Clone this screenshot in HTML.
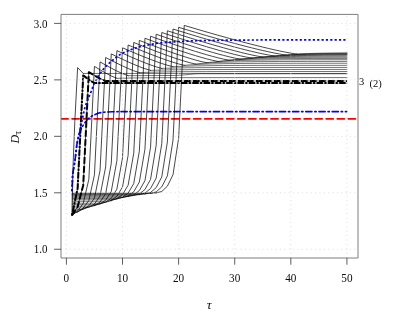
<!DOCTYPE html>
<html lang="en"><head><meta charset="utf-8"><title>plot</title>
<style>html,body{margin:0;padding:0;background:#fff}svg{display:block;will-change:transform}.t text,.t tspan{font-family:"Liberation Serif",serif}</style></head>
<body>
<svg width="399" height="319" viewBox="0 0 399 319">
<rect width="399" height="319" fill="#fff"/>
<defs><clipPath id="c"><rect x="61.0" y="14.4" width="297.0" height="243.6"/></clipPath></defs>
<g clip-path="url(#c)" fill="none">
<path d="M61.0,118.8 L358.0,118.8" stroke="#ff0000" stroke-width="1.8" stroke-dasharray="7.1 3.95" stroke-linecap="round"/>
<path d="M72.01,190.99 L72.52,176.98 L72.85,173.58 L73.97,166.54 L74.54,163.33 L75.10,159.55 L75.66,154.65 L76.22,149.52 L76.78,145.23 L77.34,141.97 L77.90,139.10 L78.46,136.61 L79.02,134.53 L79.58,132.76 L80.15,131.23 L80.71,129.87 L81.27,128.66 L81.83,127.56 L82.39,126.53 L82.95,125.58 L83.51,124.70 L84.07,123.87 L84.63,123.08 L85.20,122.34 L86.32,120.93 L86.88,120.27 L87.44,119.64 L88.00,119.05 L88.56,118.50 L89.12,118.00 L89.68,117.55 L90.25,117.14 L90.81,116.76 L91.37,116.40 L92.49,115.74 L93.61,115.17 L95.86,114.15 L96.98,113.69 L97.54,113.48 L98.66,113.11 L99.22,112.96 L99.78,112.84 L100.91,112.64 L102.03,112.47 L103.15,112.32 L104.27,112.19 L105.95,112.03 L107.64,111.94 L112.13,111.78 L115.49,111.69 L118.30,111.66 L346.65,111.65" stroke="#0000ff" stroke-width="1.6" stroke-dasharray="1.4 2.8 6.2 2.8" stroke-linecap="round" stroke-linejoin="round"/>
<g stroke="#000" stroke-width="0.55" stroke-linejoin="round" stroke-linecap="round">
<path d="M83.23,73.45 L346.93,73.45"/>
<path d="M94.45,83.10 L346.93,83.10"/>
<path d="M105.67,81.00 L346.93,81.00"/>
<path d="M116.90,78.30 L128.12,78.05 L139.34,77.89 L156.17,77.75 L173.00,77.68 L223.50,77.61 L346.93,77.60"/>
<path d="M128.12,75.70 L173.00,75.50 L178.61,75.31 L184.22,74.87 L189.83,74.33 L195.44,73.89 L201.05,73.70 L206.66,73.75 L346.93,73.75"/>
<path d="M72.01,211.80 L77.62,211.80 M139.34,72.60 L144.95,72.38 L150.56,72.21 L161.78,71.95 L173.00,71.79 L189.83,71.65 L206.66,71.58 L234.72,71.53 L346.93,71.50"/>
<path d="M72.01,209.90 L77.62,209.90 M150.56,70.40 L161.78,70.06 L173.00,69.84 L184.22,69.70 L201.05,69.58 L217.89,69.52 L245.94,69.47 L346.93,69.45"/>
<path d="M72.01,208.00 L83.23,208.00 M161.78,68.40 L173.00,68.06 L184.22,67.84 L195.44,67.70 L212.28,67.58 L229.11,67.52 L257.16,67.47 L346.93,67.45"/>
<path d="M72.01,206.20 L88.84,206.20 L94.45,205.63 M173.00,66.70 L178.61,66.43 L184.22,66.22 L195.44,65.91 L206.66,65.71 L223.50,65.53 L240.33,65.44 L262.77,65.39 L346.93,65.35"/>
<path d="M72.01,204.70 L94.45,204.70 M184.22,65.30 L189.83,64.89 L195.44,64.56 L201.05,64.30 L206.66,64.09 L212.28,63.92 L217.89,63.79 L229.11,63.60 L245.94,63.43 L268.38,63.32 L296.43,63.27 L346.93,63.25"/>
<path d="M72.01,203.20 L100.06,203.20 M195.44,64.00 L201.05,63.48 L206.66,63.07 L212.28,62.73 L217.89,62.47 L223.50,62.26 L229.11,62.09 L240.33,61.84 L257.16,61.63 L279.60,61.49 L307.66,61.43 L346.93,61.41"/>
<path d="M72.01,201.30 L105.67,201.30 L111.28,200.70 M206.66,62.70 L212.28,62.10 L217.89,61.62 L223.50,61.24 L229.11,60.93 L234.72,60.69 L240.33,60.49 L251.55,60.21 L268.38,59.96 L285.21,59.83 L307.66,59.75 L346.93,59.71"/>
<path d="M72.01,199.78 L111.28,199.78 M217.89,61.40 L223.50,60.80 L229.11,60.32 L234.72,59.94 L240.33,59.63 L245.94,59.39 L257.16,59.03 L262.77,58.91 L273.99,58.73 L290.82,58.57 L313.27,58.47 L346.93,58.42"/>
<path d="M72.01,198.44 L116.90,198.44 M229.11,60.20 L234.72,59.60 L240.33,59.12 L245.94,58.74 L251.55,58.43 L257.16,58.19 L268.38,57.83 L279.60,57.61 L296.43,57.41 L318.88,57.29 L346.93,57.23"/>
<path d="M72.01,197.28 L122.51,197.28 M240.33,59.10 L245.94,58.50 L251.55,58.02 L257.16,57.64 L262.77,57.33 L268.38,57.09 L279.60,56.73 L290.82,56.51 L307.66,56.31 L324.49,56.21 L346.93,56.14"/>
<path d="M72.01,196.23 L128.12,196.23 M251.55,58.00 L257.16,57.43 L262.77,56.98 L268.38,56.61 L273.99,56.32 L279.60,56.09 L285.21,55.90 L296.43,55.63 L307.66,55.46 L324.49,55.31 L346.93,55.22"/>
<path d="M72.01,195.30 L133.73,195.30 L139.34,194.63 M262.77,57.00 L268.38,56.48 L273.99,56.07 L279.60,55.73 L285.21,55.47 L290.82,55.26 L296.43,55.09 L307.66,54.84 L318.88,54.68 L330.10,54.58 L346.93,54.49"/>
<path d="M72.01,194.48 L139.34,194.48 L144.95,193.97 M273.99,55.90 L279.60,55.48 L285.21,55.15 L290.82,54.88 L296.43,54.66 L302.05,54.49 L307.66,54.35 L318.88,54.15 L330.10,54.03 L346.93,53.92"/>
<path d="M72.01,193.78 L144.95,193.78 L150.56,193.40 M285.21,54.90 L290.82,54.56 L296.43,54.29 L302.05,54.07 L307.66,53.90 L313.27,53.76 L324.49,53.56 L335.71,53.43 L346.93,53.35"/>
<path d="M72.01,193.20 L150.56,193.20 L156.17,192.93 M296.43,54.00 L302.05,53.74 L307.66,53.53 L318.88,53.23 L330.10,53.04 L346.93,52.88"/>
</g>
<g stroke="#000" stroke-width="0.72" stroke-linejoin="round" stroke-linecap="round">
<path d="M72.01,215.30 L73.02,166.26 L74.82,121.65 L77.62,67.60 L83.23,73.45"/>
<path d="M72.01,215.30 L77.62,188.33 L83.23,75.40 L88.84,79.70 L94.45,83.10"/>
<path d="M72.01,215.30 L77.62,206.95 L83.23,185.13 L88.84,72.20 L94.45,75.55 L100.06,78.59 L105.67,81.00"/>
<path d="M72.01,215.30 L77.62,211.16 L83.23,203.33 L88.84,179.33 L94.45,66.40 L100.06,69.83 L105.67,73.05 L111.28,75.98 L116.90,78.30"/>
<path d="M72.01,213.50 L77.62,211.93 L83.23,208.08 L88.84,200.55 L94.45,174.83 L100.06,61.90 L105.67,65.09 L111.28,68.15 L116.90,71.02 L122.51,73.63 L128.12,75.70"/>
<path d="M77.62,211.80 L83.23,209.05 L88.84,205.86 L94.45,198.17 L100.06,170.43 L105.67,57.50 L111.28,60.42 L116.90,63.24 L122.51,65.94 L128.12,68.47 L133.73,70.78 L139.34,72.60"/>
<path d="M77.62,209.90 L83.23,209.11 L88.84,207.06 L94.45,204.06 L100.06,195.84 L105.67,166.83 L111.28,53.90 L116.90,56.64 L122.51,59.31 L128.12,61.87 L133.73,64.33 L139.34,66.64 L144.95,68.74 L150.56,70.40"/>
<path d="M83.23,208.00 L88.84,207.17 L94.45,205.46 L100.06,202.14 L105.67,193.54 L111.28,163.53 L116.90,50.60 L122.51,53.19 L128.12,55.72 L133.73,58.18 L139.34,60.54 L144.95,62.81 L150.56,64.93 L156.17,66.87 L161.78,68.40"/>
<path d="M94.45,205.63 L100.06,203.76 L105.67,200.23 L111.28,191.33 L116.90,160.68 L122.51,47.75 L128.12,50.21 L133.73,52.61 L139.34,54.96 L144.95,57.23 L150.56,59.42 L156.17,61.52 L161.78,63.49 L167.39,65.28 L173.00,66.70"/>
<path d="M94.45,204.70 L100.06,203.99 L105.67,202.06 L111.28,198.30 L116.90,189.08 L122.51,157.93 L128.12,45.00 L133.73,47.37 L139.34,49.70 L144.95,51.97 L150.56,54.19 L156.17,56.34 L161.78,58.41 L167.39,60.40 L173.00,62.26 L178.61,63.96 L184.22,65.30"/>
<path d="M100.06,203.20 L105.67,202.35 L111.28,200.35 L116.90,196.34 L122.51,186.97 L128.12,155.38 L133.73,42.45 L144.95,46.99 L150.56,49.20 L156.17,51.36 L161.78,53.46 L167.39,55.50 L173.00,57.47 L178.61,59.35 L184.22,61.12 L189.83,62.73 L195.44,64.00"/>
<path d="M111.28,200.70 L116.90,198.63 L122.51,194.59 L128.12,185.23 L133.73,153.33 L139.34,40.40 L150.56,44.72 L161.78,48.88 L167.39,50.89 L173.00,52.86 L178.61,54.76 L184.22,56.60 L189.83,58.36 L195.44,60.01 L201.05,61.51 L206.66,62.70"/>
<path d="M111.28,199.78 L116.90,199.05 L122.51,197.11 L128.12,193.10 L133.73,183.61 L139.34,151.18 L144.95,38.25 L156.17,42.39 L167.39,46.40 L173.00,48.35 L178.61,50.25 L184.22,52.10 L189.83,53.90 L195.44,55.64 L201.05,57.30 L206.66,58.86 L212.28,60.28 L217.89,61.40"/>
<path d="M116.90,198.44 L122.51,197.60 L128.12,195.88 L133.73,191.80 L139.34,182.06 L144.95,149.18 L150.56,36.25 L161.78,40.23 L173.00,44.10 L184.22,47.83 L189.83,49.63 L195.44,51.39 L201.05,53.09 L206.66,54.74 L212.28,56.31 L217.89,57.79 L223.50,59.14 L229.11,60.20"/>
<path d="M122.51,197.28 L128.12,196.45 L133.73,194.84 L139.34,190.57 L144.95,180.65 L150.56,147.18 L156.17,34.25 L167.39,38.11 L173.00,40.00 L184.22,43.70 L195.44,47.26 L201.05,48.99 L206.66,50.67 L212.28,52.30 L217.89,53.88 L223.50,55.38 L229.11,56.79 L234.72,58.08 L240.33,59.10"/>
<path d="M128.12,196.23 L133.73,195.49 L139.34,193.90 L144.95,189.53 L150.56,179.37 L156.17,145.43 L161.78,32.50 L173.00,36.22 L178.61,38.04 L189.83,41.61 L201.05,45.07 L206.66,46.75 L212.28,48.39 L217.89,49.99 L223.50,51.54 L229.11,53.03 L234.72,54.46 L240.33,55.81 L245.94,57.03 L251.55,58.00"/>
<path d="M139.34,194.63 L144.95,193.14 L150.56,188.56 L156.17,178.11 L161.78,143.68 L167.39,30.75 L178.61,34.35 L184.22,36.12 L195.44,39.60 L206.66,42.97 L212.28,44.61 L223.50,47.79 L229.11,49.32 L234.72,50.81 L240.33,52.24 L245.94,53.61 L251.55,54.90 L257.16,56.07 L262.77,57.00"/>
<path d="M144.95,193.97 L150.56,192.48 L156.17,187.66 L161.78,176.95 L167.39,141.93 L173.00,29.00 L189.83,34.21 L201.05,37.58 L206.66,39.23 L217.89,42.46 L223.50,44.03 L234.72,47.07 L240.33,48.54 L245.94,49.97 L251.55,51.34 L257.16,52.65 L262.77,53.89 L268.38,55.01 L273.99,55.90"/>
<path d="M150.56,193.40 L156.17,191.91 L161.78,186.89 L167.39,175.86 L173.00,140.23 L178.61,27.30 L195.44,32.37 L206.66,35.65 L217.89,38.85 L223.50,40.42 L234.72,43.47 L245.94,46.40 L251.55,47.82 L257.16,49.19 L262.77,50.51 L268.38,51.77 L273.99,52.96 L279.60,54.04 L285.21,54.90"/>
<path d="M156.17,192.93 L161.78,191.47 L167.39,186.17 L173.00,174.74 L178.61,138.33 L184.22,25.40 L201.05,30.39 L217.89,35.22 L229.11,38.35 L234.72,39.87 L245.94,42.85 L257.16,45.71 L262.77,47.09 L268.38,48.43 L273.99,49.72 L279.60,50.95 L285.21,52.11 L290.82,53.17 L296.43,54.00"/>
</g>
<path d="M72.01,215.30 L77.62,188.33 L83.23,75.40 L88.84,79.70 L94.45,83.10 L346.93,83.10" stroke="#000" stroke-width="2.0" stroke-dasharray="2.1 1.4 6.4 1.4" stroke-linecap="butt" stroke-linejoin="round"/>
<path d="M72.01,215.30 L77.62,206.95 L83.23,185.13 L88.84,72.20 L94.45,75.55 L100.06,78.59 L105.67,81.00 L346.93,81.00" stroke="#000" stroke-width="2.0" stroke-dasharray="6.6 2.4" stroke-linecap="butt" stroke-linejoin="round"/>
<path d="M72.01,190.99 L72.52,176.98 L72.85,173.58 L73.97,166.54 L74.54,163.33 L75.10,159.55 L75.66,154.65 L76.22,149.52 L76.78,145.23 L77.34,142.11 L77.90,139.46 L79.02,134.50 L82.95,116.26 L84.07,110.84 L84.63,108.60 L85.20,106.72 L85.76,104.99 L86.32,103.38 L86.88,101.88 L87.44,100.45 L88.00,99.09 L89.68,95.15 L90.81,92.43 L91.37,90.97 L93.05,86.31 L93.61,84.88 L94.17,83.65 L94.73,82.61 L95.86,80.71 L96.42,79.67 L97.54,77.30 L98.10,76.17 L98.66,75.24 L99.22,74.46 L99.78,73.77 L100.91,72.44 L103.15,69.54 L103.71,68.84 L104.83,67.53 L105.95,66.29 L107.08,65.14 L107.64,64.60 L108.76,63.58 L111.57,61.14 L113.25,59.73 L114.37,58.83 L116.05,57.52 L118.86,55.40 L119.42,54.99 L119.98,54.61 L120.54,54.27 L121.10,53.96 L122.23,53.40 L126.15,51.59 L127.28,51.10 L129.52,50.17 L131.20,49.52 L132.32,49.10 L135.13,48.12 L136.25,47.76 L137.37,47.42 L139.06,46.94 L140.18,46.64 L141.30,46.37 L142.98,46.00 L145.79,45.45 L148.60,44.96 L149.72,44.74 L152.52,44.09 L153.64,43.85 L155.89,43.47 L157.57,43.23 L159.82,42.99 L163.18,42.70 L175.53,41.78 L180.58,41.43 L183.94,41.24 L188.43,41.03 L192.92,40.86 L196.85,40.74 L205.82,40.54 L214.24,40.37 L222.66,40.24 L230.51,40.15 L252.39,40.00 L278.20,39.90 L314.67,39.82 L346.65,39.80" stroke="#0000ff" stroke-width="1.7" stroke-dasharray="2.2 2.16" stroke-linecap="butt" stroke-linejoin="round"/>
<g stroke="#d6d6d6" stroke-width="0.8" stroke-dasharray="1.0 3.38">
<path d="M66.40,258.0 L66.40,14.4"/>
<path d="M122.51,258.0 L122.51,14.4"/>
<path d="M178.61,258.0 L178.61,14.4"/>
<path d="M234.72,258.0 L234.72,14.4"/>
<path d="M290.82,258.0 L290.82,14.4"/>
<path d="M346.93,258.0 L346.93,14.4"/>
<path d="M61.0,249.26 L358.0,249.26"/>
<path d="M61.0,192.80 L358.0,192.80"/>
<path d="M61.0,136.33 L358.0,136.33"/>
<path d="M61.0,79.87 L358.0,79.87"/>
<path d="M61.0,23.40 L358.0,23.40"/>
</g>
</g>
<rect x="61.0" y="14.4" width="297.0" height="243.6" fill="none" stroke="#7f7f7f" stroke-width="1" stroke-linejoin="round"/>
<g stroke="#4d4d4d" stroke-width="0.9">
<path d="M66.40,258.0 L66.40,264.7"/>
<path d="M122.51,258.0 L122.51,264.7"/>
<path d="M178.61,258.0 L178.61,264.7"/>
<path d="M234.72,258.0 L234.72,264.7"/>
<path d="M290.82,258.0 L290.82,264.7"/>
<path d="M346.93,258.0 L346.93,264.7"/>
<path d="M61.0,249.26 L54.1,249.26"/>
<path d="M61.0,192.80 L54.1,192.80"/>
<path d="M61.0,136.33 L54.1,136.33"/>
<path d="M61.0,79.87 L54.1,79.87"/>
<path d="M61.0,23.40 L54.1,23.40"/>
</g>
<g class="t" font-size="11.9px" fill="#0d0d0d">
<text x="66.40" y="282.1" text-anchor="middle" textLength="5.6" lengthAdjust="spacingAndGlyphs">0</text>
<text x="122.51" y="282.1" text-anchor="middle" textLength="11.2" lengthAdjust="spacingAndGlyphs">10</text>
<text x="178.61" y="282.1" text-anchor="middle" textLength="11.2" lengthAdjust="spacingAndGlyphs">20</text>
<text x="234.72" y="282.1" text-anchor="middle" textLength="11.2" lengthAdjust="spacingAndGlyphs">30</text>
<text x="290.82" y="282.1" text-anchor="middle" textLength="11.2" lengthAdjust="spacingAndGlyphs">40</text>
<text x="346.93" y="282.1" text-anchor="middle" textLength="11.2" lengthAdjust="spacingAndGlyphs">50</text>
<text x="47.5" y="253.36" text-anchor="end" textLength="13.7" lengthAdjust="spacingAndGlyphs">1.0</text>
<text x="47.5" y="196.90" text-anchor="end" textLength="13.7" lengthAdjust="spacingAndGlyphs">1.5</text>
<text x="47.5" y="140.43" text-anchor="end" textLength="13.7" lengthAdjust="spacingAndGlyphs">2.0</text>
<text x="47.5" y="83.97" text-anchor="end" textLength="13.7" lengthAdjust="spacingAndGlyphs">2.5</text>
<text x="47.5" y="27.50" text-anchor="end" textLength="13.7" lengthAdjust="spacingAndGlyphs">3.0</text>
<text x="209.2" y="308.9" text-anchor="middle" font-style="italic" font-size="13.5px">τ</text>
<text transform="translate(18.8,143.5) rotate(-90)" font-size="12px"><tspan font-style="italic">D</tspan><tspan font-size="9.5px" dy="1.8" dx="0.2">τ</tspan></text>
<text x="359" y="84.6" font-size="10.5px">3</text>
<text x="369.6" y="87.4" font-size="10.5px">(2)</text>
</g>
</svg>
</body></html>
